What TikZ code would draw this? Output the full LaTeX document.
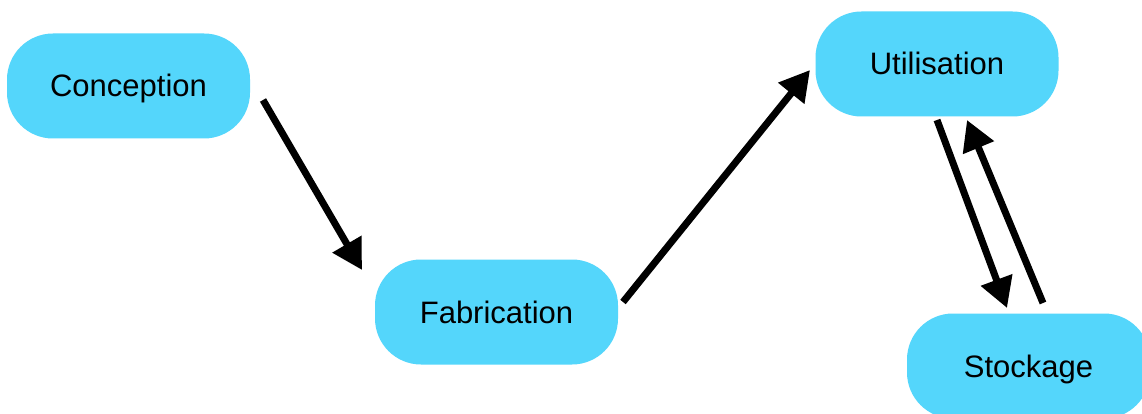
\documentclass[tikz,border=0pt]{standalone}
\usepackage{fontspec}
\setmainfont{Liberation Sans}
\usetikzlibrary{arrows.meta,calc}
\definecolor{boxblue}{RGB}{84,214,251}
\begin{document}
\begin{tikzpicture}[x=1pt,y=-1pt,
  stage/.style={fill=boxblue, draw=none, rounded corners=46pt,
    minimum width=243pt, minimum height=105pt, inner sep=0pt,
    text height=22pt, text depth=0pt,
    font=\fontsize{31}{36}\selectfont, text=black},
  flow/.style={line width=7pt, draw=black,
    -{Triangle[length=30pt,width=32pt]}}]
\useasboundingbox (0,0) rectangle (1142,414);
\clip (0,0) rectangle (1142,414);
\fill[white] (0,0) rectangle (1142,414);

\node[stage] (conc) at (128.5,86) {Conception};
\node[stage] (fab) at (496.5,312) {Fabrication};
\node[stage] (util) at (937,64) {Utilisation};
\node[stage] (stock) at (1028.5,366) {Stockage};

\draw[flow] ($(conc)+(134.5,14)$) -- ($(fab)+(-134.5,-42)$);
\draw[flow] ($(fab)+(126.5,-10)$) -- ($(util)+(-127,6)$);
\draw[flow] ($(util)+(0,56)$) -- ($(stock)+(-21.5,-58)$);
\draw[flow] ($(stock)+(14.5,-63)$) -- ($(util)+(30,56)$);
\end{tikzpicture}
\end{document}
